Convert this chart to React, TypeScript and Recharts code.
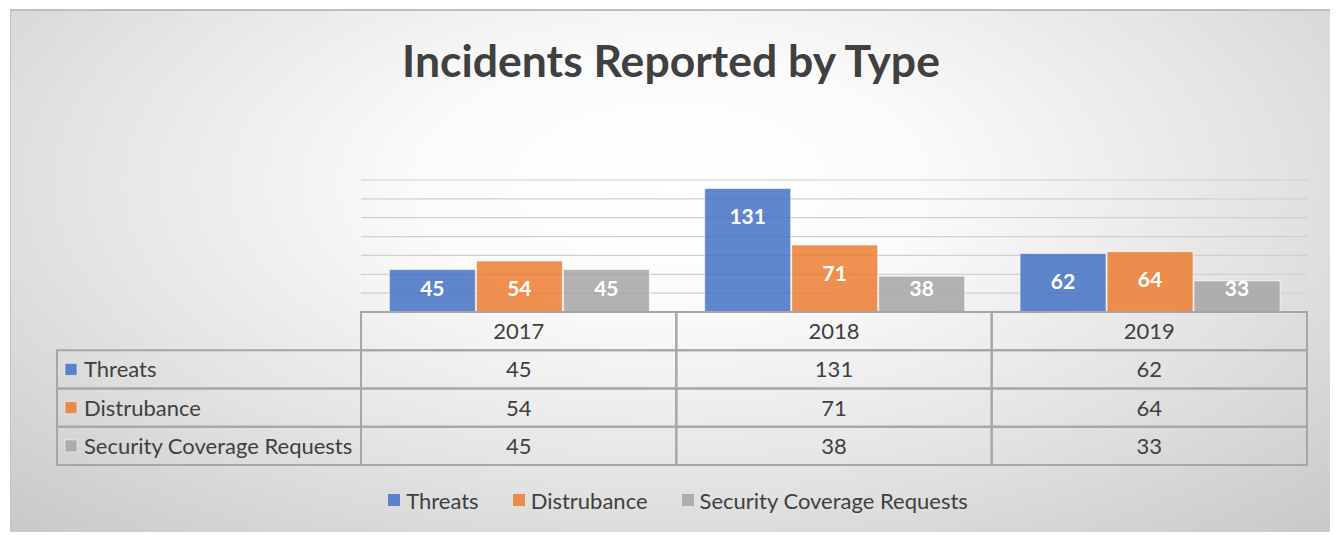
import { BarChart, Bar, XAxis, YAxis, CartesianGrid, Legend, LabelList } from "recharts"

const years = ["2017", "2018", "2019"]
const threats = [45, 131, 62]
const distrubance = [54, 71, 64]
const securityRequests = [45, 38, 33]
const yTicks = [0, 20, 40, 60, 80, 100, 120, 140]

const series = [
  { key: "threats", name: "Threats", color: "#4472C4", values: threats },
  { key: "distrubance", name: "Distrubance", color: "#ED7D31", values: distrubance },
  { key: "security", name: "Security Coverage Requests", color: "#A5A5A5", values: securityRequests },
]

const data = years.map((year, i) => ({
  year,
  threats: threats[i],
  distrubance: distrubance[i],
  security: securityRequests[i],
}))

const FONT = "Lato, 'Open Sans', sans-serif"
const TEXT = "#404040"
const LINE = "#a6a6a6"
const ROW_H = 38.25
const HEAD_W = 304

// draws one column of the data table under each category
function TableTick(props: any) {
  const { x, y, payload } = props
  const half = payload.offset || 157.7
  const left = x - half
  const w = half * 2
  const idx = payload.index
  const cells = [payload.value, ...series.map((s) => String(s.values[idx]))]
  return (
    <g>
      {cells.map((txt, r) => (
        <g key={r}>
          <rect x={left} y={y + r * ROW_H} width={w} height={ROW_H} fill="none" stroke={LINE} strokeWidth={2} />
          <text
            x={x}
            y={y + r * ROW_H + ROW_H / 2 - 0.5}
            textAnchor="middle"
            dominantBaseline="central"
            fontFamily={FONT}
            fontSize={22}
            fill={TEXT}
          >
            {txt}
          </text>
        </g>
      ))}
      {idx === 0 &&
        series.map((s, r) => {
          const ry = y + (r + 1) * ROW_H
          return (
            <g key={s.key}>
              <rect x={left - HEAD_W} y={ry} width={HEAD_W} height={ROW_H} fill="none" stroke={LINE} strokeWidth={2} />
              <rect x={left - HEAD_W + 8} y={ry + ROW_H / 2 - 6} width={12} height={12} fill={s.color} fillOpacity={0.85} stroke="#fff" strokeOpacity={0.5} />
              <text
                x={left - HEAD_W + 27}
                y={ry + ROW_H / 2 - 0.5}
                dominantBaseline="central"
                fontFamily={FONT}
                fontSize={22}
                fill={TEXT}
              >
                {s.name}
              </text>
            </g>
          )
        })}
    </g>
  )
}

function BarValue(props: any) {
  const { x, y, width, height, value } = props
  const cy = Math.min(y + 27, y + height - 25)
  return (
    <text
      x={x + width / 2}
      y={cy}
      textAnchor="middle"
      dominantBaseline="central"
      fontFamily={FONT}
      fontWeight="bold"
      fontSize={21}
      fill="#ffffff"
    >
      {value}
    </text>
  )
}

function LegendBox() {
  return (
    <div
      style={{
        display: "flex",
        justifyContent: "center",
        alignItems: "center",
        height: 30,
        paddingLeft: 14,
        fontFamily: FONT,
        fontSize: 22,
        color: TEXT,
      }}
    >
      {series.map((s, i) => (
        <span key={s.key} style={{ display: "inline-flex", alignItems: "center", marginLeft: i === 0 ? 0 : 34 }}>
          <span
            style={{
              display: "inline-block",
              width: 12,
              height: 12,
              background: s.color,
              opacity: 0.85,
              marginRight: 6,
            }}
          />
          {s.name}
        </span>
      ))}
    </div>
  )
}

export default function App() {
  return (
    <div style={{ position: "absolute", left: 0, top: 0, width: 1342, height: 535, background: "#fff" }}>
      <div
        style={{
          position: "absolute",
          left: 10,
          top: 9,
          width: 1320,
          height: 523,
          borderTop: "2px solid #bdbdbd",
          borderLeft: "1px solid #c4c4c4",
          boxSizing: "border-box",
          background: "radial-gradient(ellipse 75% 95% at 50% 33%, #ffffff 0%, #fbfbfb 25%, #e4e4e4 60%, #c6c6c6 100%)",
        }}
      />
      <div
        style={{
          position: "absolute",
          left: 0,
          top: 34,
          width: 1342,
          textAlign: "center",
          fontFamily: FONT,
          fontWeight: "bold",
          fontSize: 44.5,
          color: TEXT,
          lineHeight: "52px",
        }}
      >
        Incidents Reported by Type
      </div>
      <div style={{ position: "absolute", left: 0, top: 0 }}>
        <BarChart
          width={1342}
          height={535}
          data={data}
          margin={{ top: 180, right: 35, bottom: 20, left: 361 }}
          barCategoryGap="9%"
          barGap={1}
        >
          <CartesianGrid horizontal vertical={false} stroke="#d0d0d0" strokeWidth={1.2} />
          <YAxis hide domain={[0, 140]} ticks={yTicks} interval={0} tickCount={8} />
          <XAxis
            dataKey="year"
            height={173}
            tickSize={0}
            tickMargin={0}
            tickLine={false}
            axisLine={{ stroke: "#6b6b6b", strokeWidth: 1.5 }}
            tick={<TableTick />}
            interval={0}
          />
          <Legend
            verticalAlign="bottom"
            height={30}
            wrapperStyle={{ left: 0, width: 1342 }}
            content={<LegendBox />}
          />
          {series.map((s) => (
            <Bar
              key={s.key}
              dataKey={s.key}
              name={s.name}
              fill={s.color}
              fillOpacity={0.85}
              stroke="#ffffff"
              strokeOpacity={0.6}
              strokeWidth={1}
              isAnimationActive={false}
            >
              <LabelList dataKey={s.key} content={<BarValue />} />
            </Bar>
          ))}
        </BarChart>
      </div>
    </div>
  )
}
